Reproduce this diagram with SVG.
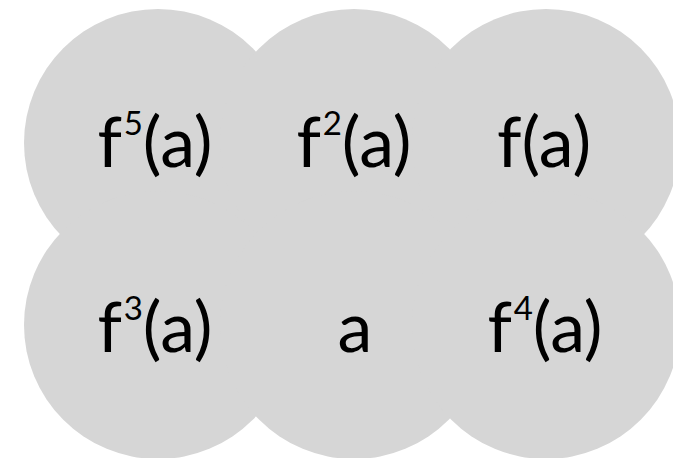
<svg xmlns="http://www.w3.org/2000/svg" width="673" height="458" viewBox="0 0 673 458">
<style>
.c{fill:#d6d6d6;stroke:none}
.t{font-family:Lato,"Open Sans","Liberation Sans",sans-serif;font-size:70px;fill:#000;text-anchor:middle}
.s{font-size:33px}
</style>
<rect width="673" height="458" fill="#fff"/>
<g id="n-f5"><circle class="c" cx="158" cy="143" r="134"/></g>
<g id="n-f2"><circle class="c" cx="354" cy="143" r="134"/></g>
<g id="n-f1"><circle class="c" cx="546" cy="143" r="134"/></g>
<g id="n-f3"><circle class="c" cx="158" cy="325" r="134"/></g>
<g id="n-a"><circle class="c" cx="354" cy="325" r="134"/></g>
<g id="n-f4"><circle class="c" cx="546" cy="325" r="134"/></g>
<g id="labels">
<text class="t" x="155" y="167">f<tspan class="s" dx="1.5" dy="-32">5</tspan><tspan dy="32">(a)</tspan></text>
<text class="t" x="354" y="167">f<tspan class="s" dx="1.5" dy="-32">2</tspan><tspan dy="32">(a)</tspan></text>
<text class="t" x="544" y="167">f(a)</text>
<text class="t" x="155" y="352">f<tspan class="s" dx="1.5" dy="-32">3</tspan><tspan dy="32">(a)</tspan></text>
<text class="t" x="355" y="352">a</text>
<text class="t" x="545" y="352">f<tspan class="s" dx="1.5" dy="-32">4</tspan><tspan dy="32">(a)</tspan></text>
</g>
<g id="connectors"></g>
</svg>
